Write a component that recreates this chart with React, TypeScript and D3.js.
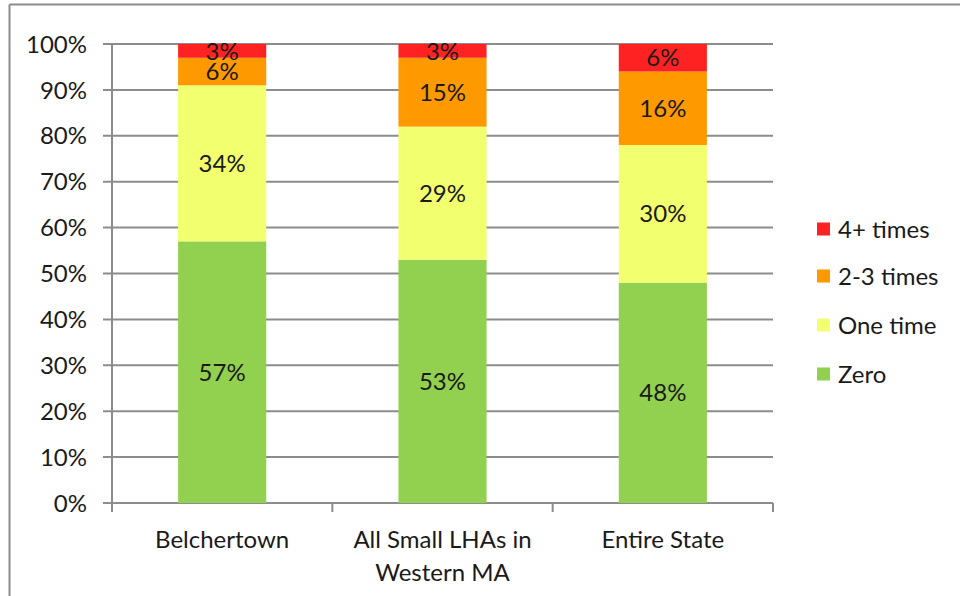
import React from "react";
import * as d3 from "d3";

const categories = ["Belchertown", "All Small LHAs in\nWestern MA", "Entire State"];
const seriesNames = ["Zero", "One time", "2-3 times", "4+ times"];
const seriesColors = ["#92d050", "#f2ff6e", "#ff9900", "#ff2222"];
const zeroVals = [57, 53, 48];
const oneVals = [34, 29, 30];
const twoThreeVals = [6, 15, 16];
const fourPlusVals = [3, 3, 6];
const yTicks = [0, 10, 20, 30, 40, 50, 60, 70, 80, 90, 100];

const FONT = "Lato, 'Liberation Sans', sans-serif";

export default function App() {
  const W = 960, H = 596;
  const left = 112, right = 773, top = 44, bottom = 503;
  const x = d3.scaleBand<string>().domain(categories).range([left, right]).paddingInner(0).paddingOuter(0);
  const y = d3.scaleLinear().domain([0, 100]).range([bottom, top]);
  const barW = x.bandwidth() * 0.4;
  const table = categories.map((c, i) => ({
    cat: c,
    Zero: zeroVals[i],
    "One time": oneVals[i],
    "2-3 times": twoThreeVals[i],
    "4+ times": fourPlusVals[i],
  }));
  const stacked = d3.stack<any>().keys(seriesNames)(table);
  const grid = "#8c8c8c";
  const fs = 24;
  const legendY = [229, 276, 325, 374];
  const legendOrder = [3, 2, 1, 0];

  return (
    <svg width={W} height={H} style={{ position: "absolute", left: 0, top: 0, background: "#fff" }}>
      <rect x={0} y={0} width={W} height={H} fill="#fff" />
      <line x1={9.5} y1={4.5} x2={W} y2={4.5} stroke={grid} strokeWidth={2} />
      <line x1={9.5} y1={4.5} x2={9.5} y2={H} stroke={grid} strokeWidth={2} />
      {yTicks.map((t) => (
        <g key={t}>
          <line x1={left - 9} x2={right} y1={y(t)} y2={y(t)} stroke={grid} strokeWidth={2} />
          <text x={87} y={y(t)} dy="0.36em" textAnchor="end" fontFamily={FONT} fontSize={fs} fill="#1a1a1a">
            {t}%
          </text>
        </g>
      ))}
      <line x1={left} x2={left} y1={top} y2={bottom + 9} stroke={grid} strokeWidth={2} />
      {[...categories.map((c) => x(c)!), right].map((bx, i) => (
        <line key={i} x1={bx} x2={bx} y1={bottom} y2={bottom + 9} stroke={grid} strokeWidth={2} />
      ))}
      {stacked.map((s, si) => (
        <g key={s.key}>
          {s.map((d, ci) => {
            const cx = x(categories[ci])! + x.bandwidth() / 2;
            const y0 = y(d[0]), y1 = y(d[1]);
            return (
              <g key={ci}>
                <rect x={cx - barW / 2} y={y1} width={barW} height={y0 - y1} fill={seriesColors[si]} />
                <text x={cx} y={(y0 + y1) / 2} dy="0.36em" textAnchor="middle" fontFamily={FONT} fontSize={fs} fill="#1a1a1a">
                  {d[1] - d[0]}%
                </text>
              </g>
            );
          })}
        </g>
      ))}
      {categories.map((c) => {
        const lines = c.split("\n");
        const cx = x(c)! + x.bandwidth() / 2;
        return (
          <text key={c} textAnchor="middle" fontFamily={FONT} fontSize={fs} fill="#1a1a1a">
            {lines.map((l, li) => (
              <tspan key={li} x={cx} y={539 + li * 33} dy="0.36em">{l}</tspan>
            ))}
          </text>
        );
      })}
      {legendOrder.map((si, k) => (
        <g key={si}>
          <rect x={817} y={legendY[k] - 6.5} width={13} height={13} fill={seriesColors[si]} />
          <text x={838} y={legendY[k]} dy="0.36em" fontFamily={FONT} fontSize={fs} fill="#1a1a1a">
            {seriesNames[si]}
          </text>
        </g>
      ))}
    </svg>
  );
}
